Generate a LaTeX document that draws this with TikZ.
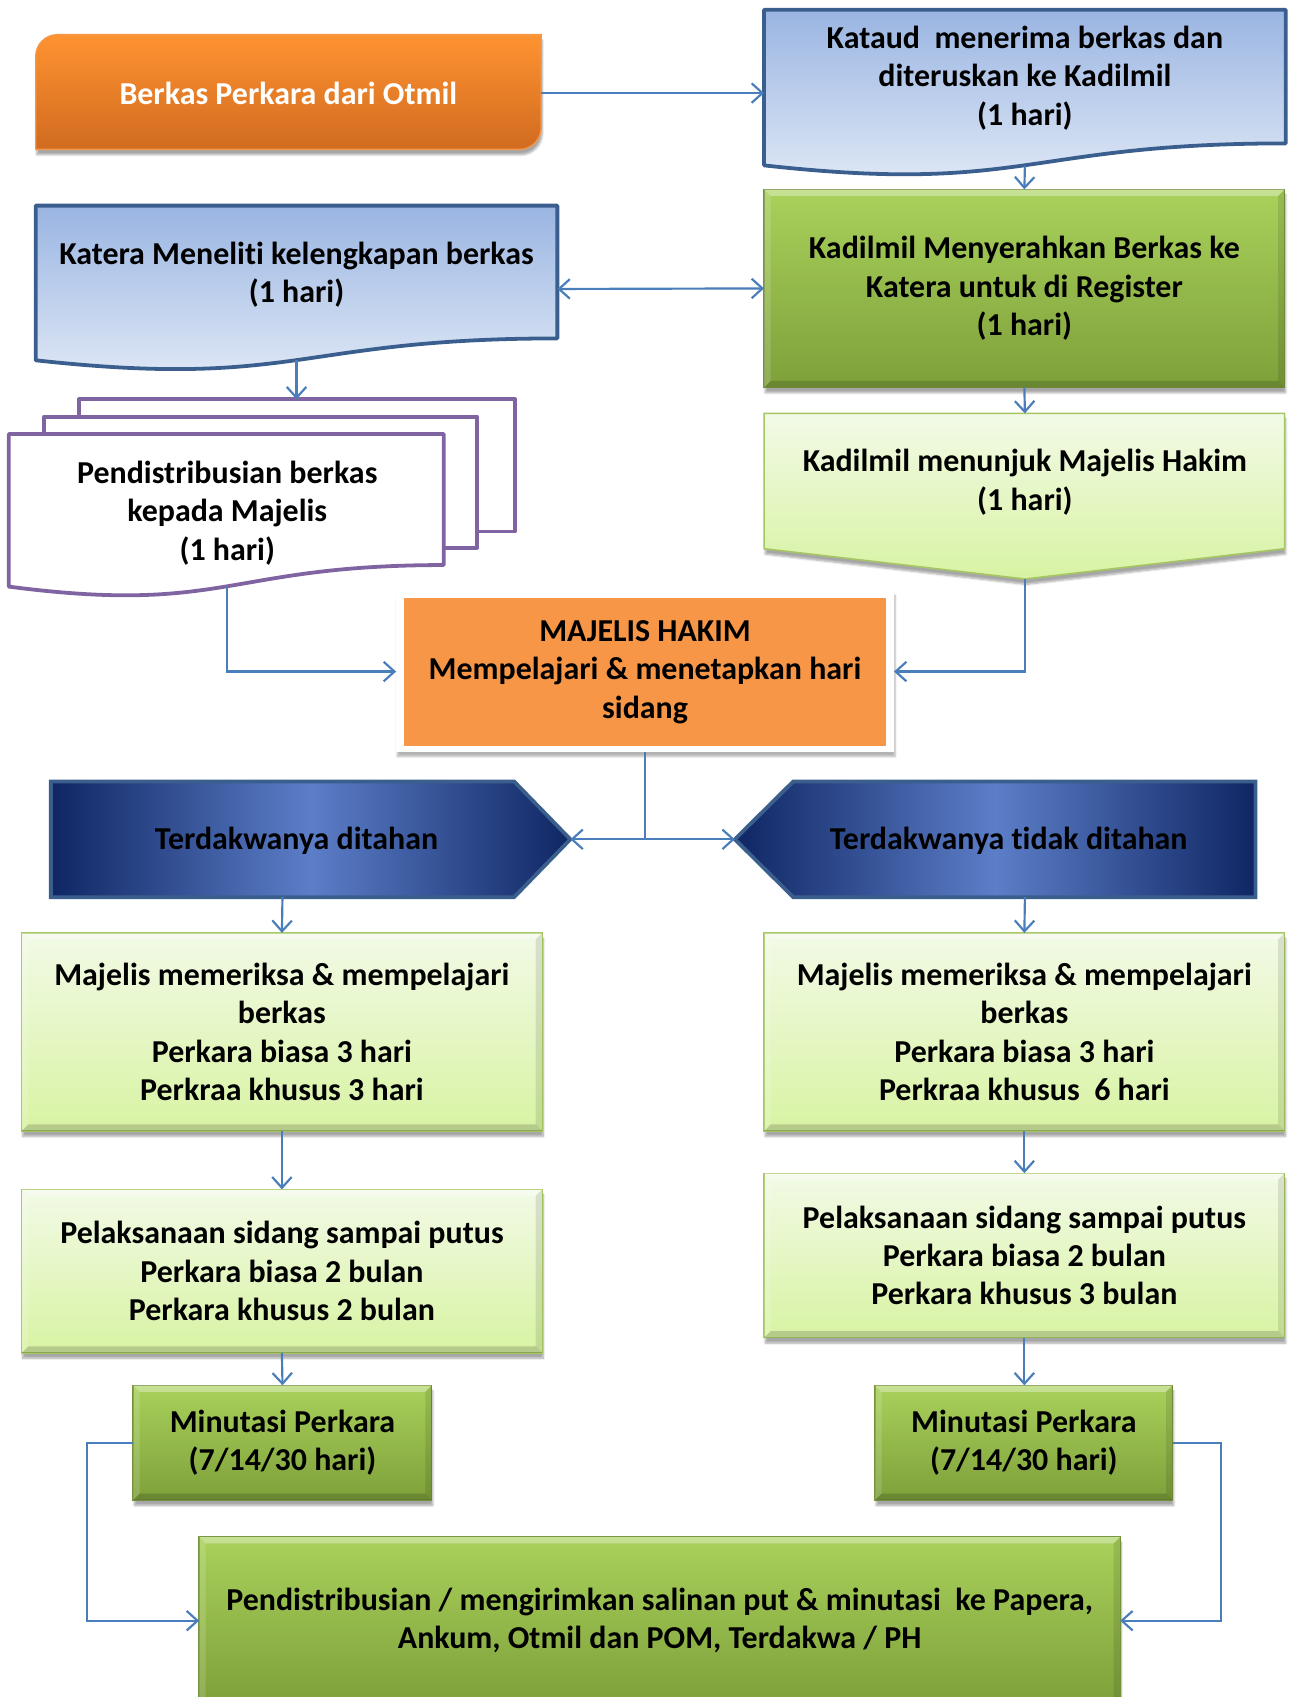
\documentclass[tikz,border=0pt]{standalone}
\usepackage{fontspec}
\setmainfont{Carlito}[Ligatures=NoCommon]
\usetikzlibrary{arrows.meta,shadows,shadows.blur,calc}
\definecolor{arrowblue}{HTML}{4A7EBB}
\definecolor{docborder}{HTML}{3A5F8F}
\definecolor{doctop}{HTML}{9AB5E2}
\definecolor{docbot}{HTML}{E3EBF7}
\definecolor{grtop}{HTML}{A9D15B}
\definecolor{grbot}{HTML}{7EA03A}
\definecolor{grborder}{HTML}{76923C}
\definecolor{lgtop}{HTML}{F2FAE6}
\definecolor{lgbot}{HTML}{D8F3A3}
\definecolor{lgborder}{HTML}{A5C663}
\definecolor{purp}{HTML}{8064A2}
\definecolor{ortop}{HTML}{FF9331}
\definecolor{orbot}{HTML}{D06B20}
\definecolor{orline}{HTML}{F79646}
\definecolor{majorange}{HTML}{F79646}
\definecolor{navy}{HTML}{0F2663}
\definecolor{midblue}{HTML}{5C7EC8}
\definecolor{navyborder}{HTML}{3A5F8C}
\newcommand\bevelfx[1]{%
  \fill[white,opacity=.35] (#1.north west) -- (#1.north east) -- ([xshift=-6pt,yshift=-6pt]#1.north east) -- ([xshift=6pt,yshift=-6pt]#1.north west) -- cycle;
  \fill[white,opacity=.15] (#1.north west) -- ([xshift=6pt,yshift=-6pt]#1.north west) -- ([xshift=6pt,yshift=6pt]#1.south west) -- (#1.south west) -- cycle;
  \fill[black,opacity=.10] (#1.north east) -- ([xshift=-6pt,yshift=-6pt]#1.north east) -- ([xshift=-6pt,yshift=6pt]#1.south east) -- (#1.south east) -- cycle;
  \fill[black,opacity=.16] (#1.south west) -- (#1.south east) -- ([xshift=-6pt,yshift=6pt]#1.south east) -- ([xshift=6pt,yshift=6pt]#1.south west) -- cycle;
}
\tikzset{
  txt/.style={font=\fontsize{29.5}{35.5}\selectfont\bfseries, align=center, inner sep=0pt, outer sep=0pt},
  arr/.style={draw=arrowblue, line width=2pt, -{Straight Barb[length=10pt,width=18pt]}},
  arrboth/.style={draw=arrowblue, line width=2pt, {Straight Barb[length=10pt,width=18pt]}-{Straight Barb[length=10pt,width=18pt]}},
  docshape/.style={draw=docborder, line width=3.5pt, top color=doctop, bottom color=docbot, line join=round},
  purpdoc/.style={draw=purp, line width=3.5pt, fill=white, line join=round},
  myshadow/.style={blur shadow={shadow xshift=1pt, shadow yshift=-5pt, shadow blur steps=6, shadow opacity=35}},
  greenbox/.style={txt, draw=grborder, line width=1.2pt, top color=grtop, bottom color=grbot, myshadow},
  lightbox/.style={txt, draw=lgborder, line width=1.2pt, top color=lgtop, bottom color=lgbot, myshadow},
  navyshape/.style={draw=navyborder, line width=3.5pt, left color=navy, right color=navy, middle color=midblue, line join=miter},
}
\begin{document}
\begin{tikzpicture}[x=1pt,y=1pt]
\useasboundingbox (0,0) rectangle (1198,-1568);

% Berkas Perkara dari Otmil
\path[top color=ortop, bottom color=orbot, draw=orline, line width=1.2pt, myshadow]
  (33,-138) -- (33,-52) arc[start angle=180,end angle=90,radius=20] -- (500,-32) -- (500,-118) arc[start angle=0,end angle=-90,radius=20] -- cycle;
\node[txt, text=white, minimum width=467pt, minimum height=106pt] (otmil) at (266.5,-86) {Berkas Perkara dari Otmil};

% Kataud (document)
\path[docshape] (706,-9) -- (1188,-9) -- (1188,-132.5) .. controls (947,-132.5) and (947,-179.6) .. (706,-152.8) -- cycle;
\node[txt, minimum width=482pt] (kataud) at (947,-72) {Kataud\ \ menerima berkas dan\\diteruskan ke Kadilmil\\(1 hari)};
\coordinate (kataudB) at (947,-153);
\coordinate (kataudW) at (706,-86);

% Kadilmil menyerahkan
\node[greenbox, minimum width=481pt, minimum height=183pt] (kadA) at (946.5,-266.5) {Kadilmil Menyerahkan Berkas ke\\Katera untuk di Register\\(1 hari)};
\bevelfx{kadA}

% Katera (document)
\path[docshape] (33,-190) -- (515,-190) -- (515,-312.7) .. controls (274,-312.7) and (274,-359.4) .. (33,-332.9) -- cycle;
\node[txt] (katera) at (274,-254) {Katera Meneliti kelengkapan berkas\\(1 hari)};
\coordinate (kateraE) at (515,-267);
\coordinate (kateraB) at (274,-333);

% Pendistribusian (multi-document)
\path[purpdoc] (73,-369) rectangle (476,-491);
\path[purpdoc] (41,-385) rectangle (441,-506);
\path[purpdoc] (8,-401) -- (410,-401) -- (410,-522.1) .. controls (209,-522.1) and (209,-568.2) .. (8,-542) -- cycle;
\node[txt] (pend) at (210,-474) {Pendistribusian berkas\\kepada Majelis\\(1 hari)};
\coordinate (pendT) at (274,-369);
\coordinate (pendB) at (210,-542);

% Kadilmil menunjuk (pentagon)
\path[draw=lgborder, line width=1.5pt, top color=lgtop, bottom color=lgbot, myshadow]
  (706,-382) -- (1187,-382) -- (1187,-507) -- (947,-535) -- (706,-507) -- cycle;
\node[txt] (kadB) at (947,-445.5) {Kadilmil menunjuk Majelis Hakim\\(1 hari)};
\coordinate (kadBT) at (947,-382);
\coordinate (kadBtip) at (947,-535);

% Majelis Hakim
\node[fill=white, minimum width=460pt, minimum height=149pt, inner sep=0pt, outer sep=0pt, blur shadow={shadow xshift=1pt, shadow yshift=-4pt, shadow blur steps=6, shadow opacity=30}] (majframe) at (596,-620.5) {};
\node[txt, fill=majorange, minimum width=446pt, minimum height=137pt] (majelis) at (596,-621) {MAJELIS HAKIM\\Mempelajari \& menetapkan hari\\sidang};

% Terdakwanya ditahan / tidak ditahan
\path[navyshape] (47,-722) -- (475,-722) -- (527,-775.5) -- (475,-829) -- (47,-829) -- cycle;
\node[txt] (tdL) at (274,-777) {Terdakwanya ditahan};
\path[navyshape] (1160,-722) -- (733,-722) -- (679,-775.5) -- (733,-829) -- (1160,-829) -- cycle;
\node[txt] (tdR) at (932,-777) {Terdakwanya tidak ditahan};
\coordinate (tdLtip) at (527,-775.5);
\coordinate (tdRtip) at (679,-775.5);
\coordinate (tdLB) at (261,-829);
\coordinate (tdRB) at (947,-829);

% Majelis memeriksa
\node[lightbox, minimum width=481pt, minimum height=183pt] (memL) at (260.5,-953.5) {Majelis memeriksa \& mempelajari\\berkas\\Perkara biasa 3 hari\\Perkraa khusus 3 hari};
\bevelfx{memL}
\node[lightbox, minimum width=481pt, minimum height=183pt] (memR) at (946.5,-953.5) {Majelis memeriksa \& mempelajari\\berkas\\Perkara biasa 3 hari\\Perkraa khusus\ \ 6 hari};
\bevelfx{memR}

% Pelaksanaan sidang
\node[lightbox, minimum width=481pt, minimum height=151pt] (pelL) at (260.5,-1174.5) {Pelaksanaan sidang sampai putus\\Perkara biasa 2 bulan\\Perkara khusus 2 bulan};
\bevelfx{pelL}
\node[lightbox, minimum width=481pt, minimum height=152pt] (pelR) at (946.5,-1160) {Pelaksanaan sidang sampai putus\\Perkara biasa 2 bulan\\Perkara khusus 3 bulan};
\bevelfx{pelR}

% Minutasi
\node[greenbox, minimum width=276pt, minimum height=106pt] (minL) at (261,-1333) {Minutasi Perkara\\(7/14/30 hari)};
\bevelfx{minL}
\node[greenbox, minimum width=275pt, minimum height=106pt] (minR) at (946,-1333) {Minutasi Perkara\\(7/14/30 hari)};
\bevelfx{minR}

% Final distribution
\node[greenbox, minimum width=851pt, minimum height=155pt] (fin) at (609.5,-1497.5) {Pendistribusian / mengirimkan salinan put \& minutasi\ \ ke Papera,\\Ankum, Otmil dan POM, Terdakwa / PH};
\bevelfx{fin}
\coordinate (lrail) at (80,0);
\coordinate (rrail) at (1128,0);

% Connectors
\draw[arr] (otmil.east) -- (otmil.east -| kataudW);
\draw[arr] (kataudB) -- (kadA.north);
\draw[arrboth] (kateraE) -- (kadA.west);
\draw[arr] (kateraB) -- (pendT);
\draw[arr] (kadA.south) -- (kadBT);
\draw[arr] (pendB) |- (majframe.west);
\draw[arr] (kadBtip) |- (majframe.east);
\draw[arr] (majframe.south) |- (tdLtip);
\draw[arr] (majframe.south) |- (tdRtip);
\draw[arr] (tdLB) -- (memL.north);
\draw[arr] (tdRB) -- (memR.north);
\draw[arr] (memL.south) -- (pelL.north);
\draw[arr] (memR.south) -- (pelR.north);
\draw[arr] (pelL.south) -- (minL.north);
\draw[arr] (pelR.south) -- (pelR.south |- minR.north);
\draw[arr] (minL.west) -- (minL.west -| lrail) |- (fin.west);
\draw[arr] (minR.east) -- (minR.east -| rrail) |- (fin.east);
\end{tikzpicture}
\end{document}
